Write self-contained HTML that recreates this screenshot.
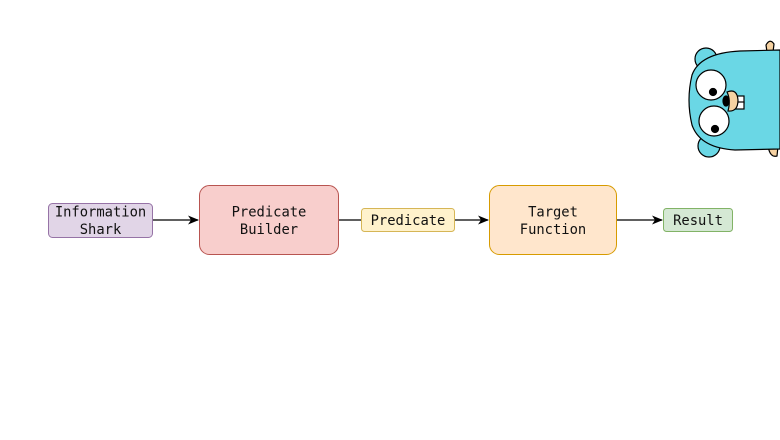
<!DOCTYPE html>
<html><head><meta charset="utf-8"><style>
html,body{margin:0;padding:0;background:#fff;}
svg{display:block}
text{font-family:"DejaVu Sans Mono","Liberation Mono",monospace;font-size:13.8px;fill:#111;text-anchor:middle}
</style></head><body>
<svg width="780" height="440" viewBox="0 0 780 440" xmlns="http://www.w3.org/2000/svg">
<defs><marker id="a" markerWidth="12" markerHeight="12" refX="10" refY="6" orient="auto" markerUnits="userSpaceOnUse"><path d="M0,1.5 L11,6 L0,10.5 L3,6 Z" fill="#000"/></marker></defs>
<!-- gopher -->
<g stroke="#000" stroke-width="1.2">
<path d="M766,45 Q770,38 774,44 L773,52 L767,52 Z" fill="#f6d2a2"/>
<path d="M768,146 Q770,158 777,156 L778,146 Z" fill="#f6d2a2"/>
<circle cx="706" cy="59" r="11" fill="#6ad7e5"/>
<circle cx="709" cy="146" r="11" fill="#6ad7e5"/>
<path d="M780,50 L740,51 Q700,53 692,75 Q686,100 692,125 Q700,148 735,150 L780,149 Z" fill="#6ad7e5"/>
<circle cx="711" cy="85" r="15" fill="#fff"/>
<circle cx="714" cy="121" r="15" fill="#fff"/>
<circle cx="713" cy="92" r="3.5" fill="#000"/>
<circle cx="715" cy="129" r="3.5" fill="#000"/>
<rect x="734" y="96" width="10" height="7" fill="#fff"/>
<rect x="734" y="102" width="10" height="7" fill="#fff"/>
<path d="M727,92 Q737,88 738,100 Q738,112 728,111 Q731,100 727,92 Z" fill="#f6d2a2"/>
<ellipse cx="726" cy="101" rx="3" ry="5" fill="#000"/>
</g>
<!-- edges -->
<g stroke="#000" stroke-width="1.2" fill="none">
<line x1="153" y1="220" x2="198" y2="220" marker-end="url(#a)"/>
<line x1="339" y1="220" x2="361" y2="220"/>
<line x1="454" y1="220" x2="488" y2="220" marker-end="url(#a)"/>
<line x1="617" y1="220" x2="662" y2="220" marker-end="url(#a)"/>
</g>
<!-- nodes -->
<rect x="48.5" y="203.5" width="104" height="34" rx="4" fill="#e1d5e7" stroke="#9673a6"/>
<text x="100.5" y="216.5">Information</text><text x="100.5" y="234">Shark</text>
<rect x="199.5" y="185.5" width="139" height="69" rx="10" fill="#f8cecc" stroke="#b85450"/>
<text x="269" y="216.5">Predicate</text><text x="269" y="234">Builder</text>
<rect x="361.5" y="208.5" width="93" height="23" rx="3" fill="#fff2cc" stroke="#d6b656"/>
<text x="408" y="225">Predicate</text>
<rect x="489.5" y="185.5" width="127" height="69" rx="10" fill="#ffe6cc" stroke="#d79b00"/>
<text x="553" y="216.5">Target</text><text x="553" y="234">Function</text>
<rect x="663.5" y="208.5" width="69" height="23" rx="3" fill="#d5e8d4" stroke="#82b366"/>
<text x="698" y="225">Result</text>
</svg>
</body></html>
